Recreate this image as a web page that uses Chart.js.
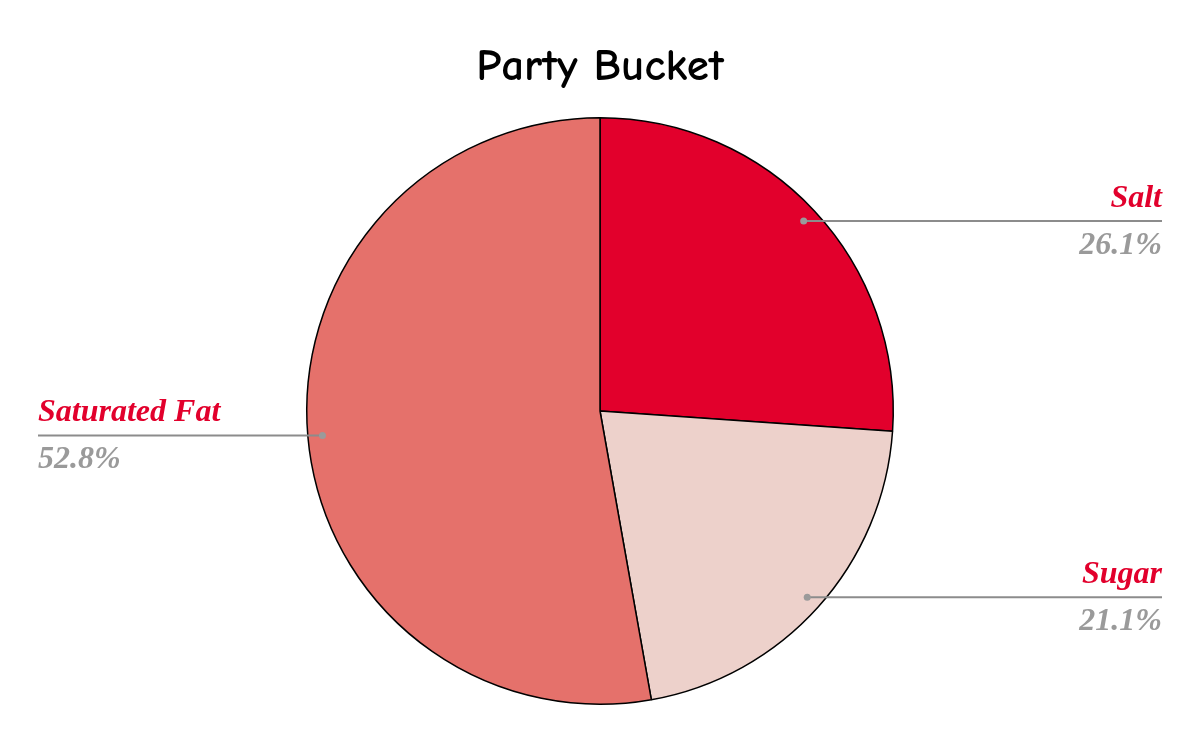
<!DOCTYPE html>
<html>
<head>
<meta charset="utf-8">
<title>Party Bucket</title>
<script src="https://cdn.jsdelivr.net/npm/chart.js@4.4.1/dist/chart.umd.min.js"></script>
<style>
  html, body { margin: 0; padding: 0; background: #fff; }
  #wrap { width: 1200px; height: 742px; position: relative; }
</style>
</head>
<body>
<div id="wrap"><canvas id="pieChart"></canvas></div>
<script>
const TITLE = 'Party Bucket';
const LABELS = ['Salt', 'Sugar', 'Saturated Fat'];
const VALUES = [26.1, 21.1, 52.8];
const COLORS = ['#E2002C', '#EDD1CB', '#E5716B'];

const LABEL_COLOR = '#E2002C';
const PCT_COLOR = '#9A9A9A';
const LINE_COLOR = '#8C8C8C';

// leader lines + two-line labels (name above, percent below)
const leaderLabels = {
  id: 'leaderLabels',
  afterDatasetsDraw(chart) {
    const { ctx } = chart;
    const meta = chart.getDatasetMeta(0);
    const total = VALUES.reduce((a, b) => a + b, 0);
    const leftX = 38;
    const rightX = 1162;

    meta.data.forEach((arc, i) => {
      const mid = (arc.startAngle + arc.endAngle) / 2;
      const r = arc.outerRadius * 0.95;
      const px = arc.x + Math.cos(mid) * r;
      const py = arc.y + Math.sin(mid) * r;
      const onRight = Math.cos(mid) >= 0;
      const endX = onRight ? rightX : leftX;

      ctx.save();
      ctx.strokeStyle = LINE_COLOR;
      ctx.lineWidth = 2;
      ctx.beginPath();
      ctx.moveTo(px, py);
      ctx.lineTo(endX, py);
      ctx.stroke();

      ctx.fillStyle = PCT_COLOR;
      ctx.beginPath();
      ctx.arc(px, py, 3.5, 0, Math.PI * 2);
      ctx.fill();

      ctx.textAlign = onRight ? 'right' : 'left';
      ctx.textBaseline = 'alphabetic';
      ctx.font = 'italic bold 32px "Liberation Serif", "Times New Roman", serif';
      ctx.fillStyle = LABEL_COLOR;
      ctx.fillText(LABELS[i], endX, py - 14);

      ctx.fillStyle = PCT_COLOR;
      const pct = (VALUES[i] / total * 100).toFixed(1) + '%';
      ctx.fillText(pct, endX, py + 33);
      ctx.restore();
    });
  }
};

new Chart(document.getElementById('pieChart'), {
  type: 'pie',
  data: {
    labels: LABELS,
    datasets: [{
      data: VALUES,
      backgroundColor: COLORS,
      borderColor: '#000',
      borderWidth: 1.5,
    }],
  },
  options: {
    responsive: true,
    maintainAspectRatio: false,
    animation: false,
    layout: { padding: { top: 0, bottom: 37, left: 0, right: 0 } },
    plugins: {
      legend: { display: false },
      tooltip: { enabled: false },
      title: {
        display: true,
        text: TITLE,
        color: '#000',
        font: { family: '"Comic Sans MS", "Comic Neue", "DejaVu Sans", sans-serif', size: 45, weight: 'bold', lineHeight: 1.2 },
        padding: { top: 40, bottom: 23 },
      },
    },
  },
  plugins: [leaderLabels],
});
</script>
</body>
</html>
